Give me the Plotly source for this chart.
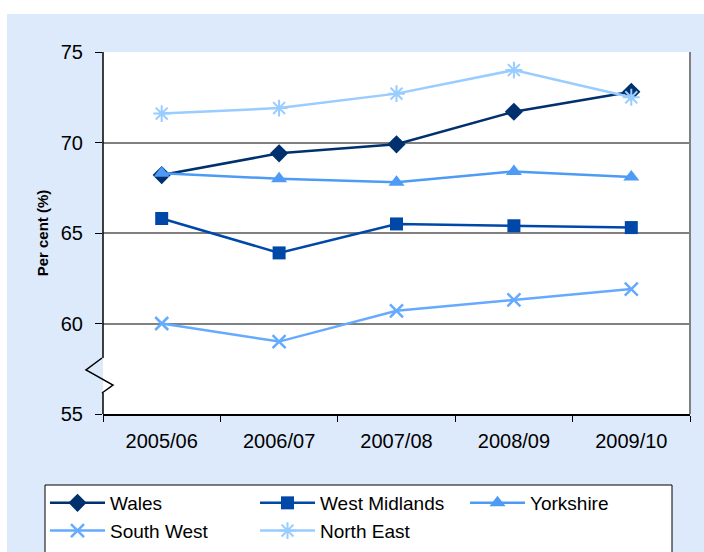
import plotly.graph_objects as go

years = ["2005/06", "2006/07", "2007/08", "2008/09", "2009/10"]
wales = [68.2, 69.4, 69.9, 71.7, 72.8]
west_midlands = [65.8, 63.9, 65.5, 65.4, 65.3]
yorkshire = [68.3, 68.0, 67.8, 68.4, 68.1]
south_west = [60.0, 59.0, 60.7, 61.3, 61.9]
north_east = [71.6, 71.9, 72.7, 74.0, 72.5]

y_ticks = [55, 60, 65, 70, 75]

FONT = "Liberation Sans, Arial, sans-serif"
BG = "#DCEAFC"

series = [
    ("Wales", wales, "#00306E", dict(symbol="diamond", size=14)),
    ("West Midlands", west_midlands, "#0048A8", dict(symbol="square", size=13)),
    ("Yorkshire", yorkshire, "#4D9BF5", dict(symbol="triangle-up", size=14)),
    ("South West", south_west, "#66AAFF", dict(symbol="x-thin-open", size=13, line=dict(width=2.5))),
    ("North East", north_east, "#99CCFF", dict(symbol="asterisk-open", size=14, line=dict(width=2))),
]

fig = go.Figure()
for name, vals, color, mk in series:
    m = dict(color=color, **mk)
    if "line" in m:
        m["line"]["color"] = color
    fig.add_trace(go.Scatter(
        x=years, y=vals, name=name, mode="lines+markers",
        line=dict(color=color, width=2.5), marker=m, cliponaxis=False,
    ))

OFF = 0
FW, FH = 704, 552
L, T, W, H = 103, 52, 587, 362

def px_x(p):
    return (p - OFF - L) / W

def px_y(p):
    return (T + H - (p - OFF)) / H

shapes = [
    # white outer strips
    dict(type="rect", xref="paper", yref="paper", x0=px_x(0), x1=px_x(720), y0=px_y(14), y1=px_y(-5),
         fillcolor="white", line=dict(width=0), layer="below"),
    dict(type="rect", xref="paper", yref="paper", x0=px_x(-5), x1=px_x(7), y0=px_y(560), y1=px_y(-5),
         fillcolor="white", line=dict(width=0), layer="below"),
    # legend frame (runs past the bottom edge, as in the source)
    dict(type="rect", xref="paper", yref="paper", x0=px_x(45), x1=px_x(672), y0=px_y(570), y1=px_y(485),
         fillcolor="white", line=dict(color="black", width=1), layer="above"),
    # right border
    dict(type="line", xref="paper", yref="paper", x0=1, x1=1, y0=0, y1=1,
         line=dict(color="#808080", width=2)),
    # left axis with break
    dict(type="line", xref="paper", yref="paper", x0=0, x1=0, y0=px_y(358), y1=1,
         line=dict(color="black", width=1.5)),
    dict(type="line", xref="paper", yref="paper", x0=0, x1=0, y0=0, y1=px_y(393),
         line=dict(color="black", width=1.5)),
    dict(type="path", xref="paper", yref="paper",
         path=f"M {px_x(102)},{px_y(358)} L {px_x(86)},{px_y(370)} L {px_x(113)},{px_y(385)} L {px_x(102)},{px_y(393)}",
         line=dict(color="black", width=1.5)),
]

fig.update_layout(
    width=FW, height=FH,
    margin=dict(l=L, r=FW - L - W, t=T, b=FH - T - H, autoexpand=False),
    paper_bgcolor=BG, plot_bgcolor="white",
    font=dict(family=FONT, size=20, color="black"),
    showlegend=True,
    legend=dict(
        orientation="h", x=px_x(45), xanchor="left", y=px_y(484), yanchor="top",
        bgcolor="rgba(0,0,0,0)", borderwidth=0,
        font=dict(family=FONT, size=19, color="black"),
        entrywidth=140, entrywidthmode="pixels", itemwidth=55,
    ),
    shapes=shapes,
)

fig.update_xaxes(
    type="category", range=[-0.5, 4.5], automargin=False,
    showline=True, linecolor="black", linewidth=1.5,
    ticks="outside", tickson="boundaries", ticklen=6, tickcolor="black", tickwidth=1,
    showgrid=False, ticklabelstandoff=8,
    tickfont=dict(family=FONT, size=20),
)
fig.update_yaxes(
    range=[55, 75], tickvals=y_ticks, ticktext=[str(v) for v in y_ticks],
    automargin=False,
    showline=False, zeroline=False,
    showgrid=True, gridcolor="#808080", gridwidth=1.5,
    ticks="outside", ticklen=7, tickcolor="black", tickwidth=1,
    ticklabelstandoff=8,
    tickfont=dict(family=FONT, size=20),
    title=dict(text="<b>Per cent (%)</b>", font=dict(family=FONT, size=15), standoff=8),
)

fig.write_html(
    "out.html",
    config={"displayModeBar": False},
    post_script="document.body.style.margin='0';document.body.style.overflow='hidden';",
)
